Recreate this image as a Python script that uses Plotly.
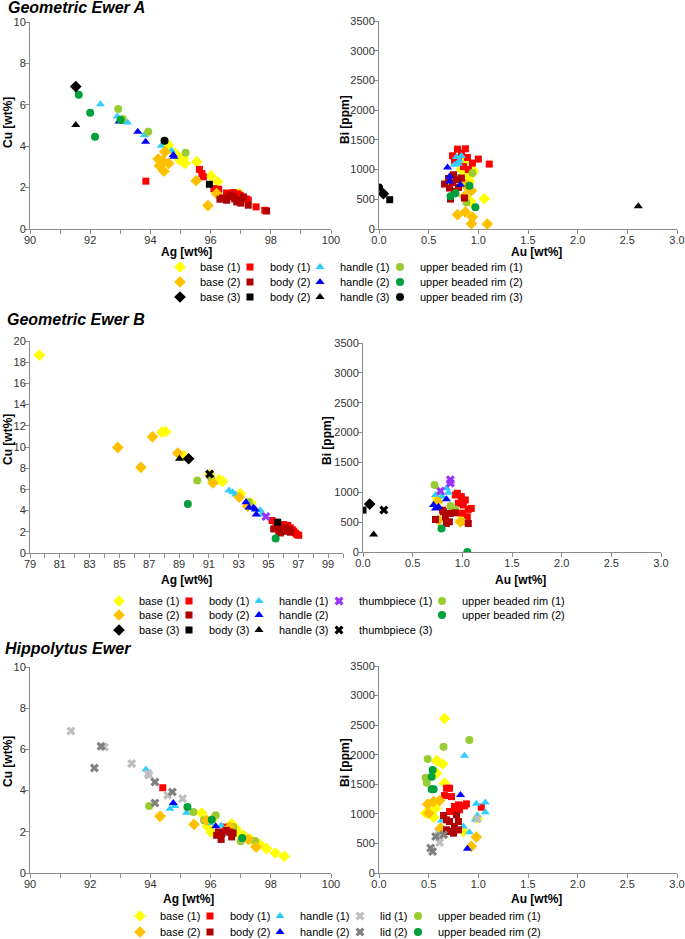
import plotly.graph_objects as go

W, H = 685, 939

# ---------------- Geometric Ewer A ----------------
A_base1_ag = [94.60, 94.82, 94.93, 94.98, 95.15, 95.54, 96.01, 96.23, 96.95, 95.10]
A_base1_cu = [4.05, 3.65, 3.49, 3.33, 3.17, 3.25, 2.57, 2.28, 1.71, 3.40]
A_base2_ag = [94.26, 94.30, 94.41, 94.48, 94.45, 94.61, 95.52, 95.91, 96.20]
A_base2_cu = [3.38, 3.05, 3.30, 3.73, 2.79, 3.17, 2.33, 1.13, 1.71]
A_base3_ag = [91.52]
A_base3_cu = [6.88]
A_body1_ag = [93.85, 95.63, 95.71, 95.76, 96.11, 96.27, 96.53, 96.75, 96.98, 97.25, 97.51, 97.80, 96.60, 96.90, 97.20]
A_body1_cu = [2.31, 2.88, 2.68, 2.52, 1.95, 1.92, 1.74, 1.76, 1.63, 1.39, 1.07, 0.90, 1.65, 1.70, 1.45]
A_body2_ag = [96.31, 96.53, 96.64, 96.75, 96.87, 96.98, 97.09, 97.25, 97.86, 96.40, 96.80, 97.00]
A_body2_cu = [1.44, 1.39, 1.63, 1.55, 1.31, 1.39, 1.55, 1.15, 0.87, 1.50, 1.45, 1.25]
A_body3_ag = [95.96]
A_body3_cu = [2.16]
A_handle1_ag = [92.34, 92.90, 93.24, 93.80, 94.36, 94.70]
A_handle1_cu = [6.03, 5.43, 5.14, 4.54, 4.02, 3.78]
A_handle2_ag = [92.96, 93.58, 93.84, 94.76, 94.78]
A_handle2_cu = [5.19, 4.70, 4.22, 3.57, 3.49]
A_handle3_ag = [91.52]
A_handle3_cu = [5.02]
A_rim1_ag = [92.93, 93.08, 93.93, 95.17]
A_rim1_cu = [5.80, 5.31, 4.70, 3.68]
A_rim2_ag = [91.62, 92.00, 92.16, 93.01]
A_rim2_cu = [6.49, 5.62, 4.46, 5.27]
A_rim3_ag = [94.47]
A_rim3_cu = [4.26]

A_base1_au = [0.85, 0.88, 0.94, 0.91, 0.92, 1.06, 0.88, 0.83, 0.90, 0.95]
A_base1_bi = [1109, 997, 941, 801, 465, 510, 885, 1000, 950, 980]
A_base2_au = [0.79, 0.87, 0.94, 0.93, 1.09, 0.85, 0.88, 0.93, 0.86, 0.90]
A_base2_bi = [241, 286, 201, 90, 84, 773, 745, 644, 549, 689]
A_base3_au = [0.044]
A_base3_bi = [593]
A_body1_au = [0.74, 0.79, 0.87, 0.89, 0.94, 1.00, 1.11, 0.76, 0.83, 0.85, 0.90, 0.80]
A_body1_bi = [1232, 1344, 1350, 1204, 1109, 1176, 1092, 1154, 1277, 1050, 1000, 1200]
A_body2_au = [0.66, 0.71, 0.75, 0.78, 0.86, 0.72, 0.83, 0.76, 0.70, 0.74, 0.80]
A_body2_bi = [756, 689, 913, 829, 521, 504, 857, 633, 850, 780, 700]
A_body3_au = [0.108]
A_body3_bi = [493]
A_handle1_au = [0.78, 0.81, 0.76, 0.80, 0.83]
A_handle1_bi = [1210, 1154, 1081, 1100, 1230]
A_handle2_au = [0.69, 0.71, 0.71, 0.82]
A_handle2_bi = [1036, 885, 800, 745]
A_handle3_au = [2.61]
A_handle3_bi = [381]
A_rim1_au = [0.94, 0.88, 0.80]
A_rim1_bi = [941, 448, 857]
A_rim2_au = [0.72, 0.91, 0.97, 0.77]
A_rim2_bi = [549, 728, 364, 600]
A_rim3_au = [0.0]
A_rim3_bi = [700]

# ---------------- Geometric Ewer B ----------------
B_base1_ag = [79.63, 87.85, 88.10, 89.32, 91.05, 91.70, 91.92, 93.11, 93.83]
B_base1_cu = [18.66, 11.40, 11.45, 9.17, 7.40, 6.92, 6.76, 5.60, 4.73]
B_base2_ag = [84.89, 86.44, 87.22, 88.92, 91.27, 93.04, 93.60]
B_base2_cu = [9.96, 8.08, 10.96, 9.42, 6.61, 5.26, 4.41]
B_base3_ag = [89.64]
B_base3_cu = [8.89]
B_body1_ag = [95.24, 96.02, 96.47, 96.69, 97.03, 96.80, 96.25, 95.80, 96.60, 96.90, 95.50, 96.30]
B_body1_cu = [3.06, 2.68, 2.37, 2.05, 1.67, 1.89, 2.46, 2.27, 2.20, 1.75, 2.90, 2.60]
B_body2_ag = [95.35, 95.69, 96.02, 96.36, 95.80, 96.13, 96.47, 95.60]
B_body2_cu = [2.27, 2.05, 2.05, 2.21, 1.89, 2.37, 1.96, 2.40]
B_body3_ag = [95.62]
B_body3_cu = [2.90]
B_handle1_ag = [92.35, 92.60, 92.80, 94.45, 94.56, 93.80]
B_handle1_cu = [5.89, 5.73, 5.51, 4.04, 3.63, 4.60]
B_handle2_ag = [93.49, 94.00, 94.12, 94.18, 93.70]
B_handle2_cu = [4.79, 4.26, 4.10, 3.63, 4.30]
B_handle3_ag = [89.03]
B_handle3_cu = [8.89]
B_thumb1_ag = [93.56, 94.83]
B_thumb1_cu = [4.57, 3.44]
B_thumb3_ag = [91.05]
B_thumb3_cu = [7.45]
B_rim1_ag = [90.22, 91.16, 93.67]
B_rim1_cu = [6.83, 7.08, 4.82]
B_rim2_ag = [89.59, 95.48]
B_rim2_cu = [4.63, 1.36]

B_base1_au = [0.99, 0.75]
B_base1_bi = [534, 900]
B_base2_au = [0.76, 0.98, 0.75]
B_base2_bi = [534, 506, 843]
B_base3_au = [0.067]
B_base3_bi = [803]
B_body1_au = [0.93, 1.03, 1.06, 1.09, 0.99, 0.96, 1.05, 0.95, 1.01, 0.90, 1.00]
B_body1_bi = [955, 871, 713, 730, 927, 815, 590, 983, 787, 700, 650]
B_body2_au = [0.73, 0.81, 0.84, 0.88, 0.83, 0.93, 1.06, 0.87, 0.80]
B_body2_bi = [545, 674, 478, 646, 590, 657, 478, 506, 700]
B_body3_au = [0.0]
B_body3_bi = [702]
B_handle1_au = [0.73, 0.77, 0.84, 0.86, 0.75, 0.80]
B_handle1_bi = [955, 983, 1067, 994, 882, 930]
B_handle2_au = [0.71, 0.76, 0.84, 0.73]
B_handle2_bi = [787, 758, 882, 730]
B_handle3_au = [0.107]
B_handle3_bi = [292]
B_thumb1_au = [0.88, 0.88, 0.78]
B_thumb1_bi = [1208, 1152, 1022]
B_thumb3_au = [0.21]
B_thumb3_bi = [702]
B_rim1_au = [0.72, 0.88, 0.93, 1.00]
B_rim1_bi = [1124, 770, 713, 506]
B_rim2_au = [1.05, 0.79]
B_rim2_bi = [0, 393]

# ---------------- Hippolytus Ewer ----------------
C_base1_ag = [95.70, 95.89, 96.01, 96.09, 96.70, 96.84, 96.92, 97.09, 97.33, 97.64, 97.86, 98.15, 98.45]
C_base1_cu = [2.91, 2.28, 1.99, 2.64, 2.39, 2.15, 1.94, 1.83, 1.63, 1.39, 1.18, 0.97, 0.81]
C_base2_ag = [94.32, 95.45, 95.87, 96.64, 97.25, 97.51]
C_base2_cu = [2.75, 2.36, 2.56, 2.23, 1.63, 1.26]
C_body1_ag = [94.41, 96.48, 96.64, 96.53]
C_body1_cu = [4.14, 2.23, 2.15, 1.99]
C_body2_ag = [96.20, 96.35, 96.37, 96.53, 96.70, 96.64, 96.26, 96.75]
C_body2_cu = [1.83, 1.63, 1.91, 2.07, 1.75, 1.99, 1.99, 1.94]
C_handle1_ag = [93.85, 94.65, 94.81, 95.20, 95.96, 96.35, 96.40, 97.14]
C_handle1_cu = [5.02, 3.12, 3.25, 2.93, 2.43, 2.31, 1.88, 1.59]
C_handle2_ag = [94.76, 96.17]
C_handle2_cu = [3.40, 2.27]
C_lid1_ag = [91.36, 92.47, 93.38, 93.93, 94.57, 95.07, 93.95]
C_lid1_cu = [6.89, 6.12, 5.31, 4.82, 3.77, 3.61, 4.75]
C_lid2_ag = [92.14, 92.36, 94.15, 94.15, 94.73]
C_lid2_cu = [5.10, 6.15, 4.42, 3.40, 3.93]
C_rim1_ag = [93.96, 95.43, 95.78, 96.17, 96.75, 97.00, 97.48]
C_rim1_cu = [3.25, 2.96, 2.56, 2.80, 2.23, 1.54, 1.55]
C_rim2_ag = [95.23, 96.04, 97.05]
C_rim2_cu = [3.20, 2.59, 1.70]

C_base1_au = [0.66, 0.58, 0.64, 0.58, 0.66, 0.47, 0.57, 0.55, 0.85, 0.99]
C_base1_bi = [2612, 1899, 1843, 1685, 1517, 1011, 1096, 944, 702, 927]
C_base2_au = [0.49, 0.55, 0.61, 0.50, 0.62, 0.98, 0.93]
C_base2_bi = [1163, 1208, 1225, 1011, 758, 607, 449]
C_body1_au = [0.68, 0.71, 0.66, 0.73, 0.76, 0.80, 0.86, 0.88, 0.71, 0.76, 1.03, 0.81]
C_body1_bi = [1433, 1433, 1309, 1292, 1124, 1152, 1135, 1169, 1039, 1039, 1112, 1067]
C_body2_au = [0.65, 0.68, 0.71, 0.78, 0.80, 0.68, 0.75, 0.76, 0.71, 0.80]
C_body2_bi = [972, 899, 871, 983, 871, 730, 674, 787, 702, 730]
C_handle1_au = [0.86, 0.98, 1.07, 1.07, 0.99, 0.97, 0.91, 0.85, 0.63]
C_handle1_bi = [1983, 1169, 1191, 1028, 972, 899, 691, 787, 888]
C_handle2_au = [0.82, 0.89]
C_handle2_bi = [1320, 410]
C_lid1_au = [0.61, 0.61, 0.60, 0.99]
C_lid1_bi = [517, 618, 702, 916]
C_lid2_au = [0.52, 0.54, 0.57, 0.65]
C_lid2_bi = [421, 365, 618, 646]
C_rim1_au = [0.49, 0.65, 0.91, 0.47, 0.48]
C_rim1_bi = [1927, 2135, 2247, 1612, 1528]
C_rim2_au = [0.54, 0.53, 0.53, 0.55]
C_rim2_bi = [1742, 1629, 1416, 1416]

# ---------------- styles ----------------
YELLOW, ORANGE, BLACK = "#FFFF00", "#FFC000", "#000000"
RED, DARKRED = "#FF0000", "#B00000"
CYAN, BLUE = "#33CCFF", "#0000FF"
LGREEN, GREEN = "#99CC33", "#00A03C"
PURPLE = "#9933FF"
LGRAY, DGRAY = "#BFBFBF", "#808080"

SYM = {"base": ("diamond", 9), "body": ("square", 7), "handle": ("triangle-up", 8),
       "rim": ("circle", 8), "thumb": ("x", 8), "lid": ("x", 8)}

FONT = "Liberation Sans, Arial, sans-serif"
AXCOL = "#8C8C8C"
TXTCOL = "#333333"

fig = go.Figure()


def add(name, kind, color, xl, yl, xr, yr, axl, axr, legend, lw, group):
    sym, size = SYM[kind]
    mk = dict(color=color, symbol=sym, size=size, line=dict(width=0))
    fig.add_trace(go.Scatter(x=xl, y=yl, mode="markers", name=name, marker=mk,
                             xaxis="x" + axl, yaxis="y" + axl, legend=legend,
                             legendwidth=lw, legendgroup=group, showlegend=True,
                             hoverinfo="x+y+name"))
    fig.add_trace(go.Scatter(x=xr, y=yr, mode="markers", name=name, marker=mk,
                             xaxis="x" + axr, yaxis="y" + axr, legend=legend,
                             legendgroup=group, showlegend=False,
                             hoverinfo="x+y+name"))


# Panel A (axes '' and '2')
add("base (1)", "base", YELLOW, A_base1_ag, A_base1_cu, A_base1_au, A_base1_bi, "", "2", "legend", 25, "A1")
add("body (1)", "body", RED, A_body1_ag, A_body1_cu, A_body1_au, A_body1_bi, "", "2", "legend", 25, "A2")
add("handle (1)", "handle", CYAN, A_handle1_ag, A_handle1_cu, A_handle1_au, A_handle1_bi, "", "2", "legend", 35, "A3")
add("upper beaded rim (1)", "rim", LGREEN, A_rim1_ag, A_rim1_cu, A_rim1_au, A_rim1_bi, "", "2", "legend", 0, "A4")
add("base (2)", "base", ORANGE, A_base2_ag, A_base2_cu, A_base2_au, A_base2_bi, "", "2", "legend2", 25, "A5")
add("body (2)", "body", DARKRED, A_body2_ag, A_body2_cu, A_body2_au, A_body2_bi, "", "2", "legend2", 25, "A6")
add("handle (2)", "handle", BLUE, A_handle2_ag, A_handle2_cu, A_handle2_au, A_handle2_bi, "", "2", "legend2", 35, "A7")
add("upper beaded rim (2)", "rim", GREEN, A_rim2_ag, A_rim2_cu, A_rim2_au, A_rim2_bi, "", "2", "legend2", 0, "A8")
add("base (3)", "base", BLACK, A_base3_ag, A_base3_cu, A_base3_au, A_base3_bi, "", "2", "legend3", 25, "A9")
add("body (2)", "body", BLACK, A_body3_ag, A_body3_cu, A_body3_au, A_body3_bi, "", "2", "legend3", 25, "A10")
add("handle (3)", "handle", BLACK, A_handle3_ag, A_handle3_cu, A_handle3_au, A_handle3_bi, "", "2", "legend3", 35, "A11")
add("upper beaded rim (3)", "rim", BLACK, A_rim3_ag, A_rim3_cu, A_rim3_au, A_rim3_bi, "", "2", "legend3", 0, "A12")

# Panel B (axes '3' and '4')
add("base (1)", "base", YELLOW, B_base1_ag, B_base1_cu, B_base1_au, B_base1_bi, "3", "4", "legend4", 25, "B1")
add("body (1)", "body", RED, B_body1_ag, B_body1_cu, B_body1_au, B_body1_bi, "3", "4", "legend4", 25, "B2")
add("handle (1)", "handle", CYAN, B_handle1_ag, B_handle1_cu, B_handle1_au, B_handle1_bi, "3", "4", "legend4", 35, "B3")
add("thumbpiece (1)", "thumb", PURPLE, B_thumb1_ag, B_thumb1_cu, B_thumb1_au, B_thumb1_bi, "3", "4", "legend4", 58, "B4")
add("upper beaded rim (1)", "rim", LGREEN, B_rim1_ag, B_rim1_cu, B_rim1_au, B_rim1_bi, "3", "4", "legend4", 0, "B5")
add("base (2)", "base", ORANGE, B_base2_ag, B_base2_cu, B_base2_au, B_base2_bi, "3", "4", "legend5", 25, "B6")
add("body (2)", "body", DARKRED, B_body2_ag, B_body2_cu, B_body2_au, B_body2_bi, "3", "4", "legend5", 25, "B7")
add("handle (2)", "handle", BLUE, B_handle2_ag, B_handle2_cu, B_handle2_au, B_handle2_bi, "3", "4", "legend5", 138, "B8")
add("upper beaded rim (2)", "rim", GREEN, B_rim2_ag, B_rim2_cu, B_rim2_au, B_rim2_bi, "3", "4", "legend5", 0, "B9")
add("base (3)", "base", BLACK, B_base3_ag, B_base3_cu, B_base3_au, B_base3_bi, "3", "4", "legend6", 25, "B10")
add("body (3)", "body", BLACK, B_body3_ag, B_body3_cu, B_body3_au, B_body3_bi, "3", "4", "legend6", 25, "B11")
add("handle (3)", "handle", BLACK, B_handle3_ag, B_handle3_cu, B_handle3_au, B_handle3_bi, "3", "4", "legend6", 35, "B12")
add("thumbpiece (3)", "thumb", BLACK, B_thumb3_ag, B_thumb3_cu, B_thumb3_au, B_thumb3_bi, "3", "4", "legend6", 0, "B13")

# Panel C (axes '5' and '6')
add("base (1)", "base", YELLOW, C_base1_ag, C_base1_cu, C_base1_au, C_base1_bi, "5", "6", "legend7", 25, "C1")
add("body (1)", "body", RED, C_body1_ag, C_body1_cu, C_body1_au, C_body1_bi, "5", "6", "legend7", 25, "C2")
add("handle (1)", "handle", CYAN, C_handle1_ag, C_handle1_cu, C_handle1_au, C_handle1_bi, "5", "6", "legend7", 35, "C3")
add("lid (1)", "lid", LGRAY, C_lid1_ag, C_lid1_cu, C_lid1_au, C_lid1_bi, "5", "6", "legend7", 13, "C4")
add("upper beaded rim (1)", "rim", LGREEN, C_rim1_ag, C_rim1_cu, C_rim1_au, C_rim1_bi, "5", "6", "legend7", 0, "C5")
add("base (2)", "base", ORANGE, C_base2_ag, C_base2_cu, C_base2_au, C_base2_bi, "5", "6", "legend8", 25, "C6")
add("body (2)", "body", DARKRED, C_body2_ag, C_body2_cu, C_body2_au, C_body2_bi, "5", "6", "legend8", 25, "C7")
add("handle (2)", "handle", BLUE, C_handle2_ag, C_handle2_cu, C_handle2_au, C_handle2_bi, "5", "6", "legend8", 35, "C8")
add("lid (2)", "lid", DGRAY, C_lid2_ag, C_lid2_cu, C_lid2_au, C_lid2_bi, "5", "6", "legend8", 13, "C9")
add("upper beaded rim (2)", "rim", GREEN, C_rim2_ag, C_rim2_cu, C_rim2_au, C_rim2_bi, "5", "6", "legend8", 0, "C10")


def px_dom_x(a, b):
    return [a / W, b / W]


def px_dom_y(top, bottom):
    return [1 - bottom / H, 1 - top / H]


tickfont = dict(family=FONT, size=11, color=TXTCOL)
common = dict(showline=True, linecolor=AXCOL, linewidth=1, ticks="outside", ticklen=4,
              tickcolor=AXCOL, showgrid=False, zeroline=False, tickfont=tickfont,
              fixedrange=True, automargin=False, ticklabelstandoff=-3)

layout = dict(width=W, height=H, margin=dict(l=0, r=0, t=0, b=0, pad=0, autoexpand=False),
              paper_bgcolor="white", plot_bgcolor="white", showlegend=True,
              font=dict(family=FONT, color="#000000"))


def left_x(dom, rng, tick0, anchor):
    return dict(domain=dom, range=rng, tickmode="linear", tick0=tick0, dtick=2, anchor=anchor,
                minor=dict(dtick=1, tick0=tick0, ticks="outside", ticklen=4, tickcolor=AXCOL),
                **common)


def right_x(dom, anchor):
    return dict(domain=dom, range=[0, 3], tickmode="linear", tick0=0, dtick=0.5, tickformat=".1f",
                anchor=anchor, **common)


def left_y(dom, rng, anchor):
    return dict(domain=dom, range=rng, tickmode="linear", tick0=0, dtick=2, anchor=anchor, **common)


def right_y(dom, anchor):
    return dict(domain=dom, range=[0, 3500], tickmode="linear", tick0=0, dtick=500, anchor=anchor,
                **common)


layout["xaxis"] = left_x(px_dom_x(30, 331), [90, 100], 90, "y")
layout["yaxis"] = left_y(px_dom_y(22, 229), [0, 10], "x")
layout["xaxis2"] = right_x(px_dom_x(379, 677), "y2")
layout["yaxis2"] = right_y(px_dom_y(21, 229), "x2")
layout["xaxis3"] = left_x(px_dom_x(30, 343), [79, 100], 79, "y3")
layout["yaxis3"] = left_y(px_dom_y(341, 553), [0, 20], "x3")
layout["xaxis4"] = right_x(px_dom_x(363, 661), "y4")
layout["yaxis4"] = right_y(px_dom_y(343, 552), "x4")
layout["xaxis5"] = left_x(px_dom_x(30, 331), [90, 100], 90, "y5")
layout["yaxis5"] = left_y(px_dom_y(667, 873), [0, 10], "x5")
layout["xaxis6"] = right_x(px_dom_x(379, 677), "y6")
layout["yaxis6"] = right_y(px_dom_y(666, 873), "x6")

legfont = dict(family=FONT, size=11, color="#000000")


def leg(xpx, ypx):
    return dict(orientation="h", x=xpx / W, y=1 - ypx / H, xanchor="left", yanchor="middle",
                bgcolor="rgba(0,0,0,0)", borderwidth=0, font=legfont, itemclick=False,
                itemdoubleclick=False, traceorder="normal", tracegroupgap=0)


layout["legend"] = leg(160, 267)
layout["legend2"] = leg(160, 282)
layout["legend3"] = leg(160, 297)
layout["legend4"] = leg(99, 601)
layout["legend5"] = leg(99, 615)
layout["legend6"] = leg(99, 630)
layout["legend7"] = leg(120, 916)
layout["legend8"] = leg(120, 932)

# panel titles and axis titles (pixel positions from the reference)
titles = [("Geometric Ewer A", 6, 8), ("Geometric Ewer B", 5, 319), ("Hippolytus Ewer", 3, 648)]
xtitles = [("Ag [wt%]", 187, 252), ("Au [wt%]", 536, 252),
           ("Ag [wt%]", 187, 580), ("Au [wt%]", 520, 580),
           ("Ag [wt%]", 188, 899), ("Au [wt%]", 536, 899)]
ytitles = [("Cu [wt%]", 8, 123), ("Bi [ppm]", 345, 120),
           ("Cu [wt%]", 8, 440), ("Bi [ppm]", 327, 441),
           ("Cu [wt%]", 8, 762), ("Bi [ppm]", 345, 763)]
bold12 = dict(family=FONT, size=12, color="#000000", weight="bold")
ann = []
for t, xp, yp in titles:
    ann.append(dict(text=t, x=xp / W, y=1 - yp / H, xref="paper", yref="paper", xanchor="left",
                    yanchor="middle", showarrow=False,
                    font=dict(family=FONT, size=16, color="#000000", weight="bold", style="italic")))
for t, xp, yp in xtitles:
    ann.append(dict(text=t, x=xp / W, y=1 - yp / H, xref="paper", yref="paper", xanchor="center",
                    yanchor="middle", showarrow=False, font=bold12))
for t, xp, yp in ytitles:
    ann.append(dict(text=t, x=xp / W, y=1 - yp / H, xref="paper", yref="paper", xanchor="center",
                    yanchor="middle", showarrow=False, textangle=-90, font=bold12))
layout["annotations"] = ann

fig.update_layout(**layout)
fig.write_html("out.html", config={"displayModeBar": False},
               post_script="document.body.style.margin='0px';")
